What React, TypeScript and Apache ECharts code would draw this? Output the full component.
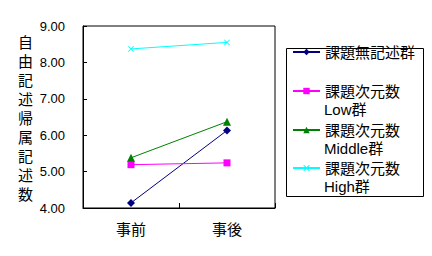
import React, { useEffect, useRef } from "react";
import * as echarts from "echarts";

const categories = ["事前", "事後"];
const seriesNames = ["課題無記述群", "課題次元数\nLow群", "課題次元数\nMiddle群", "課題次元数\nHigh群"];
const noDesc = [4.14, 6.13];
const lowGroup = [5.19, 5.24];
const middleGroup = [5.38, 6.37];
const highGroup = [8.37, 8.55];
const yTitle = "自由記述帰属記述数";

const colors = ["#000080", "#FF00FF", "#008000", "#00FFFF"];
const symbols = [
  "diamond",
  "rect",
  "triangle",
  "path://M0,1L1,0L5,4L9,0L10,1L6,5L10,9L9,10L5,6L1,10L0,9L4,5Z",
];
const symbolSizes = [8, 7, 8, 6];
const FONT = "'Liberation Sans', 'Noto Sans CJK JP', sans-serif";

export default function App() {
  const ref = useRef<HTMLDivElement>(null);
  useEffect(() => {
    if (!ref.current) return;
    const chart = echarts.init(ref.current, undefined, { renderer: "svg" });
    const values = [noDesc, lowGroup, middleGroup, highGroup];
    const iconCenters = [52, 91, 130, 168];
    const legends = seriesNames.map((name, i) => ({
      show: true,
      orient: "vertical",
      left: 292,
      top: iconCenters[i] - 9,
      padding: 0,
      itemWidth: 27,
      itemHeight: 8,
      selectedMode: false,
      data: [name],
      formatter: (n: string) => n.split("\n")[0],
      textStyle: { fontSize: 15, lineHeight: 18, color: "#000", fontFamily: FONT },
    }));
    const secondLines = seriesNames
      .map((name, i) => ({ lines: name.split("\n"), i }))
      .filter((o) => o.lines.length > 1)
      .map((o) => ({
        type: "text",
        x: 324,
        y: iconCenters[o.i] + 18,
        style: {
          text: o.lines[1],
          fontSize: 15,
          fill: "#000",
          fontFamily: FONT,
          verticalAlign: "middle",
          align: "left",
        },
      }));
    chart.setOption({
      animation: false,
      backgroundColor: "#fff",
      textStyle: { fontFamily: FONT },
      grid: {
        left: 83,
        top: 26,
        right: 157,
        bottom: 48,
        show: true,
        borderColor: "#000",
        borderWidth: 1,
        backgroundColor: "transparent",
      },
      graphic: [
        {
          type: "rect",
          shape: { x: 286.5, y: 48.5, width: 137, height: 148 },
          style: { fill: "#fff", stroke: "#000", lineWidth: 1 },
          z: -1,
        },
        {
          type: "text",
          left: 18,
          top: 33,
          style: {
            text: yTitle.split("").join("\n"),
            fontSize: 15,
            lineHeight: 19,
            fill: "#000",
            fontFamily: FONT,
          },
        },
        ...secondLines,
      ],
      legend: legends,
      xAxis: {
        type: "category",
        data: categories,
        boundaryGap: true,
        axisLine: { lineStyle: { color: "#000", width: 1 } },
        axisTick: { show: true, inside: true, length: 5, lineStyle: { color: "#000" } },
        axisLabel: { color: "#000", fontSize: 15, margin: 14, fontFamily: FONT },
        splitLine: { show: false },
      },
      yAxis: {
        type: "value",
        min: 4,
        max: 9,
        interval: 1,
        axisLine: { show: true, lineStyle: { color: "#000", width: 1 } },
        axisTick: { show: true, inside: true, length: 4, lineStyle: { color: "#000" } },
        axisLabel: {
          color: "#000",
          fontSize: 13,
          margin: 18,
          fontFamily: FONT,
          formatter: (v: number) => v.toFixed(2),
        },
        splitLine: { show: false },
      },
      series: seriesNames.map((name, i) => ({
        name,
        type: "line",
        data: values[i],
        symbol: symbols[i],
        symbolSize: symbolSizes[i],
        showAllSymbol: true,
        lineStyle: { color: colors[i], width: 1 },
        itemStyle: { color: colors[i] },
      })),
    });
    return () => chart.dispose();
  }, []);
  return <div ref={ref} style={{ width: 432, height: 256, position: "absolute", left: 0, top: 0 }} />;
}
